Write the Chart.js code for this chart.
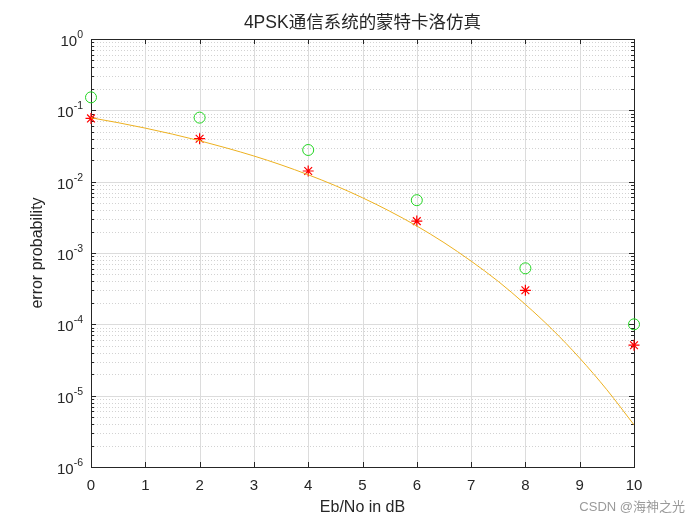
<!DOCTYPE html>
<html><head><meta charset="utf-8">
<script src="https://cdn.jsdelivr.net/npm/chart.js@4/dist/chart.umd.min.js"></script>
<style>html,body{margin:0;padding:0;background:#fff;}#wrap{width:700px;height:525px;}</style>
</head><body><div id="wrap"><canvas id="c" width="700" height="525"></canvas></div>
<script>
// ---- data ----
const titleText = '4PSK通信系统的蒙特卡洛仿真';
const xLabel = 'Eb/No in dB';
const yLabel = 'error probability';
const watermark = 'CSDN @海神之光';
const xTicks = [0,1,2,3,4,5,6,7,8,9,10];
const yDecades = [0,-1,-2,-3,-4,-5,-6];
// theoretical curve (yellow)
const curveX = [0,0.5,1,1.5,2,2.5,3,3.5,4,4.5,5,5.5,6,6.5,7,7.5,8,8.5,9,9.5,10];
const curveY = [0.0786,0.0671,0.0563,0.0464,0.0375,0.0296,0.0229,0.0172,0.0125,0.0088,0.00595,0.00386,0.00239,0.0014,0.00077,0.0004,0.00019,0.000084,0.0000336,0.0000121,0.0000039];
// simulated points
const simX = [0,2,4,6,8,10];
const redStars = [0.077,0.040,0.0141,0.0028,0.00030,0.000051];
const greenCircles = [0.152,0.079,0.0278,0.0055,0.00061,0.00010];

const TXT = '#262626';
const FONT = '"Liberation Sans", Arial, "Noto Sans CJK SC", sans-serif';

const axesPlugin = {
  id: 'matlabAxes',
  beforeDatasetsDraw(chart) {
    const ctx = chart.ctx, a = chart.chartArea;
    const xs = chart.scales.x, ys = chart.scales.y;
    ctx.save();
    // minor dotted grid (y)
    ctx.strokeStyle = '#d2d2d2'; ctx.lineWidth = 1; ctx.setLineDash([1,2]);
    for (let d = -6; d < 0; d++) {
      for (let k = 2; k <= 9; k++) {
        const y = Math.round(ys.getPixelForValue(k * Math.pow(10, d))) + 0.5;
        ctx.beginPath(); ctx.moveTo(a.left, y); ctx.lineTo(a.right, y); ctx.stroke();
      }
    }
    ctx.setLineDash([]);
    // major grid
    ctx.strokeStyle = '#dcdcdc';
    xTicks.forEach(v => {
      if (v === 0 || v === 10) return;
      const x = Math.round(xs.getPixelForValue(v)) + 0.5;
      ctx.beginPath(); ctx.moveTo(x, a.top); ctx.lineTo(x, a.bottom); ctx.stroke();
    });
    yDecades.forEach(d => {
      if (d === 0 || d === -6) return;
      const y = Math.round(ys.getPixelForValue(Math.pow(10, d))) + 0.5;
      ctx.beginPath(); ctx.moveTo(a.left, y); ctx.lineTo(a.right, y); ctx.stroke();
    });
    // box
    ctx.strokeStyle = TXT; ctx.lineWidth = 1;
    ctx.strokeRect(Math.round(a.left) + 0.5, Math.round(a.top) + 0.5, Math.round(a.right - a.left), Math.round(a.bottom - a.top));
    // ticks
    ctx.beginPath();
    xTicks.forEach(v => {
      const x = Math.round(xs.getPixelForValue(v)) + 0.5;
      ctx.moveTo(x, a.bottom); ctx.lineTo(x, a.bottom - 5);
      ctx.moveTo(x, a.top); ctx.lineTo(x, a.top + 5);
    });
    yDecades.forEach(d => {
      const y = Math.round(ys.getPixelForValue(Math.pow(10, d))) + 0.5;
      ctx.moveTo(a.left, y); ctx.lineTo(a.left + 5, y);
      ctx.moveTo(a.right, y); ctx.lineTo(a.right - 5, y);
    });
    for (let d = -6; d < 0; d++) {
      for (let k = 2; k <= 9; k++) {
        const y = Math.round(ys.getPixelForValue(k * Math.pow(10, d))) + 0.5;
        ctx.moveTo(a.left, y); ctx.lineTo(a.left + 3, y);
        ctx.moveTo(a.right, y); ctx.lineTo(a.right - 3, y);
      }
    }
    ctx.stroke();
    ctx.restore();
  },
  afterDraw(chart) {
    const ctx = chart.ctx, a = chart.chartArea;
    const xs = chart.scales.x, ys = chart.scales.y;
    ctx.save();
    ctx.fillStyle = TXT;
    // x tick labels
    ctx.font = '15px ' + FONT; ctx.textAlign = 'center'; ctx.textBaseline = 'middle';
    xTicks.forEach(v => ctx.fillText(String(v), xs.getPixelForValue(v), 486));
    // y tick labels with superscript
    yDecades.forEach(d => {
      const y = ys.getPixelForValue(Math.pow(10, d));
      const exp = String(d);
      ctx.font = '10.5px ' + FONT;
      const we = ctx.measureText(exp).width;
      const right = 83;
      ctx.textAlign = 'left'; ctx.textBaseline = 'middle';
      ctx.fillText(exp, right - we, y - 4);
      ctx.font = '15px ' + FONT;
      ctx.textAlign = 'right';
      ctx.fillText('10', right - we, y + 3);
    });
    // axis labels
    ctx.font = '16px ' + FONT; ctx.textAlign = 'center'; ctx.textBaseline = 'middle';
    ctx.fillText(xLabel, (a.left + a.right) / 2, 508);
    ctx.save();
    ctx.translate(38, (a.top + a.bottom) / 2);
    ctx.rotate(-Math.PI / 2);
    ctx.fillText(yLabel, 0, 0);
    ctx.restore();
    // title
    ctx.font = '17.5px ' + FONT;
    ctx.fillText(titleText, (a.left + a.right) / 2, 23);
    // watermark
    ctx.fillStyle = '#9a9a9a';
    ctx.font = '13px ' + FONT; ctx.textAlign = 'right';
    ctx.fillText(watermark, 685, 507);
    ctx.restore();
  }
};

const curveData = curveX.map((x, i) => ({x, y: curveY[i]}));
const redData = simX.map((x, i) => ({x, y: redStars[i]}));
const greenData = simX.map((x, i) => ({x, y: greenCircles[i]}));

new Chart(document.getElementById('c'), {
  type: 'line',
  data: {
    datasets: [
      { data: curveData, borderColor: '#EDB120', borderWidth: 1, pointRadius: 0, cubicInterpolationMode: 'monotone', fill: false },
      { data: redData, showLine: false, pointStyle: 'star', pointRadius: 5.5, borderColor: '#ff0000', backgroundColor: '#ff0000', pointBorderWidth: 1.2, clip: false },
      { data: greenData, showLine: false, pointStyle: 'circle', pointRadius: 5.5, borderColor: '#22d422', backgroundColor: 'rgba(0,0,0,0)', pointBorderWidth: 1, clip: false }
    ]
  },
  options: {
    responsive: false, animation: false, devicePixelRatio: 1,
    layout: { padding: { top: 39, right: 66, left: 0, bottom: 0 } },
    plugins: { legend: { display: false }, tooltip: { enabled: false }, title: { display: false } },
    scales: {
      x: { type: 'linear', min: 0, max: 10, grid: { display: false }, border: { display: false }, ticks: { display: false },
           afterFit(s) { s.height = 58; } },
      y: { type: 'logarithmic', min: 1e-6, max: 1, grid: { display: false }, border: { display: false }, ticks: { display: false },
           afterFit(s) { s.width = 91; } }
    }
  },
  plugins: [axesPlugin]
});
</script>
</body></html>
